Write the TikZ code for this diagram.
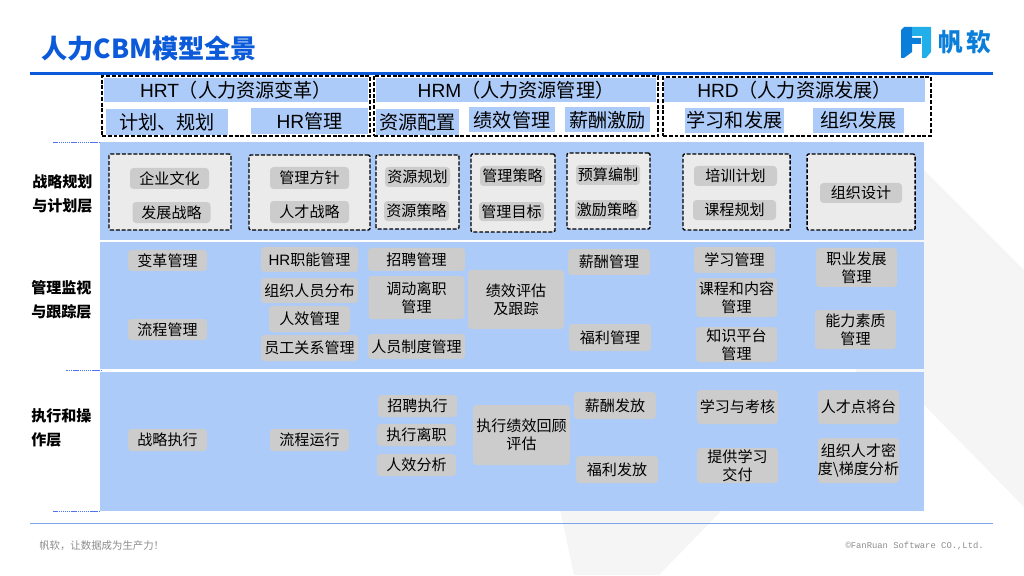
\documentclass[tikz,border=0pt]{standalone}
\usepackage{fontspec}
\usepackage{xcolor}
\setmainfont{Noto Sans CJK SC}
\newfontfamily\latinfont{Liberation Sans}
\newfontfamily\footfont{Liberation Mono}
\usetikzlibrary{positioning}
\definecolor{brandblue}{HTML}{0B5AD9}
\definecolor{logodark}{HTML}{0A7ED8}
\definecolor{logolight}{HTML}{22AEE8}
\definecolor{panelblue}{HTML}{ADCBF8}
\definecolor{rulemark}{HTML}{4F73F0}
\definecolor{footrule}{HTML}{7BA7E8}

\begin{document}
\begin{tikzpicture}[
        x=0.025cm, y=-0.025cm,
        sz/.style 2 args={minimum width=#1*0.025cm, minimum height=#2*0.025cm},
        panel/.style={rectangle, fill=panelblue, inner sep=0pt, outer sep=0pt},
        bar/.style={panel, align=center, font=\fontsize{13.6}{16}\selectfont},
        groupbox/.style={rectangle, draw=black, dash pattern=on 2.8pt off 1.3pt, line width=1.05pt, fill=white, inner sep=0pt},
        stratbox/.style={groupbox, fill=black!8, rounded corners=1pt},
        chip/.style={rectangle, fill=black!20, rounded corners=2.5pt, inner sep=0pt, outer sep=0pt, align=center, font=\fontsize{10.7}{12.9}\selectfont},
        layerlabel/.style={align=left, inner sep=0pt, font=\fontsize{10.7}{17}\selectfont\bfseries},
        tick/.style={draw=rulemark, dash pattern=on 1pt off 0.5pt, line width=0.5pt}
    ]
        \useasboundingbox (0,0) rectangle (1024,576);

        % Watermark behind the panels
        \fill[black!4] (896,142) -- (1024,270) -- (1024,507) -- (924,405) -- (850,405) -- cycle;
        \fill[black!4] (559,505) -- (574,575) -- (659,575) -- (727,505) -- cycle;

        % Header
        \node[anchor=west, inner sep=0pt, text=brandblue, font=\fontsize{18.6}{20}\selectfont\bfseries] (title) at (41,48.5) {人力CBM模型全景};
        \fill[logodark] (904,27) -- (912,27) -- (912,38) -- (921,38) -- (921,44) -- (912,44) -- (912,52) -- (904,58) -- (901,58) -- (901,30) -- cycle;
        \fill[logolight] (912,27) -- (931,27) -- (931,52) -- (926,58) -- (922,58) -- (922,36) -- (912,36) -- cycle;
        \node[inner sep=0pt, text=logodark, font=\fontsize{17.6}{20}\selectfont\bfseries] (brand) at (965,42) {帆\hspace{0.1cm}软};
        \draw[brandblue, line width=2.5pt] (30,73.5) coordinate (headl) -- (993,73.5) coordinate (headr);

        % Top groups
        \node[groupbox, sz={268}{60}] (hrtbox) at (236,106) {};
        \node[groupbox, sz={284}{60}] (hrmbox) at (516,106) {};
        \node[groupbox, sz={268}{59}] (hrdbox) at (797,106.5) {};

        \node[bar, sz={264}{24}] (hrt) at (236,90) {{\latinfont HRT}（人力资源变革）};
        \node[bar, sz={122}{26}] (plan) at (167,122) {计划、规划};
        \node[bar, sz={117}{26}, right=0.575cm of plan, yshift=0.025cm] (hrmgmt) {{\latinfont HR}管理};

        \node[bar, sz={280}{24}] (hrm) at (516,90) {{\latinfont HRM}（人力资源管理）};
        \node[bar, sz={83}{26}] (alloc) at (417.5,122) {资源配置};
        \node[bar, sz={86}{25}, right=0.25cm of alloc, yshift=0.05cm] (perf) {绩效管理};
        \node[bar, sz={85}{25}, right=0.25cm of perf] (pay) {薪酬激励};

        \node[bar, sz={261}{24}] (hrd) at (794.5,90) {{\latinfont HRD}（人力资源发展）};
        \node[bar, sz={99}{25}] (learn) at (734.5,120.5) {学习和发展};
        \node[bar, sz={91}{25}, right=0.725cm of learn] (orgdev) {组织发展};

        % Layer panels
        \node[panel, sz={824}{98}] (stratlayer) at (512,191) {};
        \node[panel, sz={824}{127}, below=0.05cm of stratlayer] (mgmtlayer) {};
        \node[panel, sz={824}{139}, below=0.075cm of mgmtlayer] (execlayer) {};

        \draw[tick] (stratlayer.north west) -- ++(-47,0) coordinate (marka);
        \draw[tick] (execlayer.north west) ++(2,-1.5) -- ++(-36,0) coordinate (markb);
        \draw[tick] (execlayer.south west) -- ++(-47,0) coordinate (markc);

        \node[layerlabel, anchor=west] (stratlabel) at (32,193.5) {战略规划\\与计划层};
        \node[layerlabel, anchor=west] (mgmtlabel) at (31,300) {管理监视\\与跟踪层};
        \node[layerlabel, anchor=west] (execlabel) at (31,428) {执行和操\\作层};

        % Strategy layer
        \node[stratbox, sz={122}{76}] (box1) at (170,192) {};
        \node[stratbox, sz={121}{75}] (box2) at (309.5,192.5) {};
        \node[stratbox, sz={83}{74}] (box3) at (417.5,192) {};
        \node[stratbox, sz={84}{78}] (box4) at (513,193) {};
        \node[stratbox, sz={83}{76}] (box5) at (608.5,191) {};
        \node[stratbox, sz={107}{76}] (box6) at (736.5,192) {};
        \node[stratbox, sz={108}{76}] (box7) at (861,192) {};

        \node[chip, sz={79}{21}] (culture) at (169.5,178.5) {企业文化};
        \node[chip, sz={78}{21}, below=0.325cm of culture, xshift=0.05cm] (strategy) {发展战略};
        \node[chip, sz={79}{22}] (policy) at (309.5,178) {管理方针};
        \node[chip, sz={79}{22}, below=0.3cm of policy] (talent) {人才战略};
        \node[chip, sz={65}{20}] (resplan) at (417.5,177) {资源规划};
        \node[chip, sz={65}{20}, below=0.35cm of resplan, xshift=-0.025cm] (resstrat) {资源策略};
        \node[chip, sz={65}{20}] (mgmtstrat) at (512.5,176) {管理策略};
        \node[chip, sz={65}{19}, below=0.4cm of mgmtstrat, xshift=-0.025cm] (mgmtgoal) {管理目标};
        \node[chip, sz={64}{20}] (budget) at (608,175) {预算编制};
        \node[chip, sz={64}{19}, below=0.375cm of budget, xshift=-0.025cm] (incent) {激励策略};
        \node[chip, sz={83}{20}] (training) at (735.5,176) {培训计划};
        \node[chip, sz={83}{20}, below=0.35cm of training, xshift=-0.025cm] (courseplan) {课程规划};
        \node[chip, sz={82}{20}] (orgdesign) at (861,193) {组织设计};

        % Management layer
        \node[chip, sz={79}{21}] (change) at (167.5,260.5) {变革管理};
        \node[chip, sz={79}{21}, below=1.2cm of change] (process) {流程管理};
        \node[chip, sz={97}{25}] (hrfunc) at (309.5,259.5) {{\latinfont HR}职能管理};
        \node[chip, sz={97}{25}, below=0.15cm of hrfunc] (staffdist) {组织人员分布};
        \node[chip, sz={81}{26}, below=0.075cm of staffdist] (effmgmt) {人效管理};
        \node[chip, sz={97}{26}, below=0.075cm of effmgmt] (relation) {员工关系管理};
        \node[chip, sz={97}{23}] (recruit) at (416.5,259.5) {招聘管理};
        \node[chip, sz={96}{43}, below=0.125cm of recruit] (transfer) {调动离职\\管理};
        \node[chip, sz={97}{25}, below=0.375cm of transfer] (system) {人员制度管理};
        \node[chip, sz={96}{59}] (appraise) at (516,299.5) {绩效评估\\及跟踪};
        \node[chip, sz={82}{26}] (salary) at (609,262) {薪酬管理};
        \node[chip, sz={82}{27}, below=1.225cm of salary, xshift=0.025cm] (benefit) {福利管理};
        \node[chip, sz={81}{26}] (learnmgmt) at (734.5,260) {学习管理};
        \node[chip, sz={81}{39}, below=0.125cm of learnmgmt, xshift=0.05cm] (content) {课程和内容\\管理};
        \node[chip, sz={81}{35}, below=0.25cm of content] (platform) {知识平台\\管理};
        \node[chip, sz={81}{39}] (career) at (856.5,267.5) {职业发展\\管理};
        \node[chip, sz={81}{39}, below=0.575cm of career, xshift=-0.025cm] (ability) {能力素质\\管理};

        % Execution layer
        \node[chip, sz={79}{22}] (stratexec) at (167.5,440) {战略执行};
        \node[chip, sz={79}{22}] (procrun) at (309.5,440) {流程运行};
        \node[chip, sz={79}{22}] (recruitexec) at (417.5,406) {招聘执行};
        \node[chip, sz={79}{22}, below=0.175cm of recruitexec, xshift=-0.025cm] (leaveexec) {执行离职};
        \node[chip, sz={79}{22}, below=0.2cm of leaveexec] (effana) {人效分析};
        \node[chip, sz={97}{60}] (review) at (521.5,435) {执行绩效回顾\\评估};
        \node[chip, sz={82}{27}] (salarypay) at (615,405.5) {薪酬发放};
        \node[chip, sz={82}{27}, below=0.925cm of salarypay, xshift=0.05cm] (benefitpay) {福利发放};
        \node[chip, sz={81}{34}] (exam) at (737.5,407) {学习与考核};
        \node[chip, sz={81}{35}, below=0.6cm of exam] (delivery) {提供学习\\交付};
        \node[chip, sz={81}{34}] (roster) at (858.5,407) {人才点将台};
        \node[chip, sz={81}{45}, below=0.35cm of roster] (density) {组织人才密\\度\textbackslash 梯度分析};

        % Footer
        \draw[footrule, line width=0.7pt] (30,523.5) coordinate (footl) -- (993,523.5) coordinate (footr);
        \node[anchor=west, inner sep=0pt, text=black!45, font=\fontsize{7.4}{9}\selectfont] (slogan) at (39,546) {帆软，让数据成为生产力！};
        \node[anchor=east, inner sep=0pt, text=black!45, font=\fontsize{6.3}{9}\footfont] (copyright) at (984,546) {©FanRuan Software CO.,Ltd.};

    \end{tikzpicture}
\end{document}
